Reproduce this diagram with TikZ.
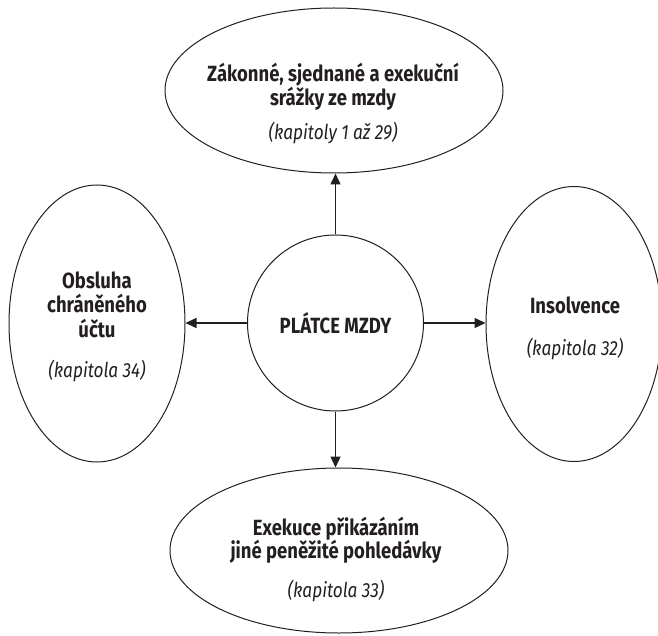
\documentclass[tikz,border=0pt]{standalone}
\usepackage{fontspec}
\setmainfont{Fira Sans}[FakeStretch=0.84]
\usetikzlibrary{shapes.geometric,arrows.meta}
\definecolor{ink}{HTML}{231F20}
\begin{document}
\begin{tikzpicture}[x=1pt,y=-1pt,
  oval/.style={draw=ink, line width=1pt, ellipse, inner sep=0pt},
  arr/.style={draw=ink, line width=1.4pt, -{Triangle[length=11pt,width=10pt]}},
  hd/.style={font=\fontsize{22}{24}\selectfont\bfseries, text=ink, anchor=base, inner sep=0pt},
  it/.style={font=\fontsize{20.5}{23}\selectfont\itshape, text=ink, anchor=base, inner sep=0pt}]
\useasboundingbox (0,0) rectangle (658,636);
\node[oval, minimum width=338pt, minimum height=165pt] (top) at (334,90.5) {};
\node[oval, minimum width=176pt, minimum height=277pt] (lft) at (97,323.5) {};
\node[oval, minimum width=176pt, minimum height=275pt] (rgt) at (574,324) {};
\node[oval, minimum width=338pt, minimum height=165pt] (bot) at (339,550.5) {};
\node[draw=ink, line width=1pt, circle, minimum size=176pt, inner sep=0pt] (c) at (335.5,323) {};
% texts
\node[hd] (t1) at (333,82) {Zákonné, sjednané a exekuční};
\node[hd] (t2) at (333,106) {srážky ze mzdy};
\node[it] (t3) at (333,140) {(kapitoly 1 až 29)};
\node[hd] (l1) at (97,288) {Obsluha};
\node[hd] (l2) at (97,312) {chráněného};
\node[hd] (l3) at (97,337) {účtu};
\node[it] (l4) at (97,377) {(kapitola 34)};
\node[hd] (cc) at (335.5,333) {PLÁTCE MZDY};
\node[hd] (r1) at (575,313) {Insolvence};
\node[it] (r2) at (575,355) {(kapitola 32)};
\node[hd] (b1) at (336,535) {Exekuce přikázáním};
\node[hd] (b2) at (336,558) {jiné peněžité pohledávky};
\node[it] (b3) at (336,597) {(kapitola 33)};
% arrows
\draw[arr] (c.north) -- (c.north |- top.south);
\draw[arr] (c.south) -- (c.south |- bot.north);
\draw[arr] (c.west) -- (c.west -| lft.east);
\draw[arr] (c.east) -- (c.east -| rgt.west);
\end{tikzpicture}
\end{document}
